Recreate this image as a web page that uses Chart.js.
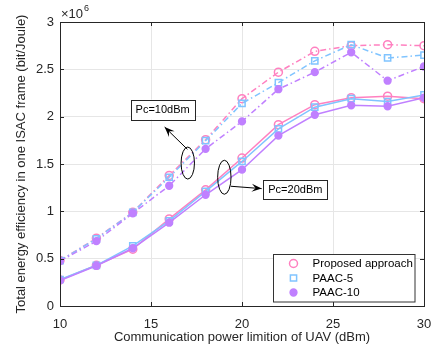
<!DOCTYPE html>
<html>
<head>
<meta charset="UTF-8" />
<script src="https://cdn.jsdelivr.net/npm/chart.js"></script>
<style>
  html, body { margin: 0; padding: 0; background: #fff; }
  #c { display: block; }
</style>
</head>
<body>
<canvas id="c" width="433" height="352"></canvas>
<script>
// x: communication power limit (dBm); y values in units of 1e6 bit/Joule
const powerDbm = [10, 12, 14, 16, 18, 20, 22, 24, 26, 28, 30];

// Pc = 10 dBm (dash-dot curves)
const proposedPc10 = [0.48, 0.716, 0.99, 1.379, 1.757, 2.19, 2.47, 2.69, 2.75, 2.76, 2.75];
const paac5Pc10    = [0.48, 0.71, 0.99, 1.36, 1.746, 2.14, 2.36, 2.59, 2.76, 2.62, 2.65];
const paac10Pc10   = [0.475, 0.685, 0.98, 1.27, 1.66, 1.95, 2.29, 2.47, 2.68, 2.38, 2.53];

// Pc = 20 dBm (solid curves)
const proposedPc20 = [0.275, 0.43, 0.60, 0.92, 1.227, 1.563, 1.915, 2.127, 2.20, 2.216, 2.19];
const paac5Pc20    = [0.28, 0.43, 0.635, 0.90, 1.21, 1.527, 1.87, 2.10, 2.19, 2.16, 2.23];
const paac10Pc20   = [0.27, 0.425, 0.61, 0.88, 1.175, 1.44, 1.80, 2.02, 2.12, 2.11, 2.20];

const seriesNames = ["Proposed approach", "PAAC-5", "PAAC-10"];
const xTicks = [10, 15, 20, 25, 30];
const yTicks = [0, 0.5, 1, 1.5, 2, 2.5, 3];

const PINK = "#ff80c0";
const BLUE = "#80c4ff";
const PURPLE = "#c080ff";
const FONT = "'Liberation Sans', Arial, sans-serif";
const TXT = "#262626";
const DASHDOT = [6, 3, 1.5, 3];

const styles = [
  { color: PINK, pointStyle: "circle", radius: 4, fill: "rgba(0,0,0,0)", order: 3 },
  { color: BLUE, pointStyle: "rect", radius: 4.4, fill: "rgba(0,0,0,0)", order: 2 },
  { color: PURPLE, pointStyle: "circle", radius: 3.4, fill: PURPLE, order: 1 }
];

function toPoints(ys) {
  return ys.map((y, i) => ({ x: powerDbm[i], y: y }));
}

function makeSet(name, ys, st, dashed) {
  return {
    label: name,
    data: toPoints(ys),
    borderColor: st.color,
    backgroundColor: st.fill,
    borderWidth: 1.5,
    borderDash: dashed ? DASHDOT : [],
    pointStyle: st.pointStyle,
    pointRadius: st.radius,
    pointBorderColor: st.color,
    pointBackgroundColor: st.fill,
    pointBorderWidth: 1.5,
    tension: 0,
    order: st.order
  };
}

const datasets = [
  makeSet(seriesNames[0], proposedPc10, styles[0], true),
  makeSet(seriesNames[1], paac5Pc10, styles[1], true),
  makeSet(seriesNames[2], paac10Pc10, styles[2], true),
  makeSet(seriesNames[0], proposedPc20, styles[0], false),
  makeSet(seriesNames[1], paac5Pc20, styles[1], false),
  makeSet(seriesNames[2], paac10Pc20, styles[2], false)
];

// annotation geometry in data units (ellipse radii in px)
const notes = [
  { text: "Pc=10dBm", box: [13.88, 2.18, 17.4, 1.97], ell: [17.02, 1.51, 6.7, 16], from: [17.0, 1.655], to: [15.75, 1.89] },
  { text: "Pc=20dBm", box: [21.17, 1.333, 24.69, 1.132], ell: [19.03, 1.36, 6.7, 17], from: [19.38, 1.265], to: [21.08, 1.24] }
];

// box frame, inward ticks, exponent label, annotations, legend
const decorPlugin = {
  id: "decor",
  afterDatasetsDraw(chart) {
    const { ctx, chartArea: a, scales } = chart;
    const xs = scales.x, ys = scales.y;
    ctx.save();

    ctx.strokeStyle = TXT;
    ctx.lineWidth = 1;
    ctx.setLineDash([]);
    ctx.strokeRect(a.left + 0.5, a.top + 0.5, a.right - a.left, a.bottom - a.top);
    ctx.beginPath();
    xTicks.forEach(v => {
      const px = Math.round(xs.getPixelForValue(v)) + 0.5;
      ctx.moveTo(px, a.bottom); ctx.lineTo(px, a.bottom - 4);
      ctx.moveTo(px, a.top); ctx.lineTo(px, a.top + 4);
    });
    yTicks.forEach(v => {
      const py = Math.round(ys.getPixelForValue(v)) + 0.5;
      ctx.moveTo(a.left, py); ctx.lineTo(a.left + 4, py);
      ctx.moveTo(a.right, py); ctx.lineTo(a.right - 4, py);
    });
    ctx.stroke();

    // x10^6 multiplier
    ctx.fillStyle = TXT;
    ctx.textBaseline = "alphabetic";
    ctx.textAlign = "left";
    ctx.font = "13px " + FONT;
    ctx.fillText("\u00d710", a.left + 1, a.top - 4);
    const w = ctx.measureText("\u00d710").width;
    ctx.font = "9px " + FONT;
    ctx.fillText("6", a.left + 1 + w + 1, a.top - 11);

    // annotations
    notes.forEach(n => {
      const bx0 = xs.getPixelForValue(n.box[0]), by0 = ys.getPixelForValue(n.box[1]);
      const bx1 = xs.getPixelForValue(n.box[2]), by1 = ys.getPixelForValue(n.box[3]);
      ctx.fillStyle = "#fff";
      ctx.fillRect(bx0, by0, bx1 - bx0, by1 - by0);
      ctx.strokeStyle = TXT;
      ctx.lineWidth = 1;
      ctx.strokeRect(Math.round(bx0) + 0.5, Math.round(by0) + 0.5, Math.round(bx1 - bx0), Math.round(by1 - by0));
      ctx.fillStyle = "#000";
      ctx.font = "11px " + FONT;
      ctx.textAlign = "center";
      ctx.textBaseline = "middle";
      ctx.fillText(n.text, (bx0 + bx1) / 2, (by0 + by1) / 2 + 0.5);

      const ex = xs.getPixelForValue(n.ell[0]), ey = ys.getPixelForValue(n.ell[1]);
      ctx.strokeStyle = "#000";
      ctx.beginPath();
      ctx.ellipse(ex, ey, n.ell[2], n.ell[3], 0, 0, Math.PI * 2);
      ctx.stroke();

      const fx = xs.getPixelForValue(n.from[0]), fy = ys.getPixelForValue(n.from[1]);
      const tx = xs.getPixelForValue(n.to[0]), ty = ys.getPixelForValue(n.to[1]);
      ctx.beginPath();
      ctx.moveTo(fx, fy); ctx.lineTo(tx, ty);
      ctx.stroke();
      const ang = Math.atan2(ty - fy, tx - fx);
      const L = 10, H = 4;
      ctx.fillStyle = "#000";
      ctx.beginPath();
      ctx.moveTo(tx, ty);
      ctx.lineTo(tx - L * Math.cos(ang) + H * Math.sin(ang), ty - L * Math.sin(ang) - H * Math.cos(ang));
      ctx.lineTo(tx - 0.6 * L * Math.cos(ang), ty - 0.6 * L * Math.sin(ang));
      ctx.lineTo(tx - L * Math.cos(ang) - H * Math.sin(ang), ty - L * Math.sin(ang) + H * Math.cos(ang));
      ctx.closePath();
      ctx.fill();
    });

    // legend in the lower right corner
    const lx = 273.5, ly = 254.5, lw = 141.5, lh = 47.5;
    ctx.fillStyle = "#fff";
    ctx.fillRect(lx, ly, lw, lh);
    ctx.strokeStyle = "#333";
    ctx.lineWidth = 1;
    ctx.strokeRect(lx, ly, lw, lh);
    seriesNames.forEach((name, i) => {
      const st = styles[i];
      const my = ly + 9 + i * 14.5;
      const mx = lx + 20;
      ctx.strokeStyle = st.color;
      ctx.fillStyle = st.fill;
      ctx.lineWidth = 1.5;
      Chart.helpers.drawPoint(ctx, { pointStyle: st.pointStyle, radius: st.radius, borderWidth: 1.5 }, mx, my);
      ctx.fillStyle = "#000";
      ctx.font = "11.5px " + FONT;
      ctx.textAlign = "left";
      ctx.textBaseline = "middle";
      ctx.fillText(name, lx + 39, my + 0.5);
    });

    ctx.restore();
  }
};

new Chart(document.getElementById("c"), {
  type: "line",
  data: { datasets: datasets },
  options: {
    responsive: false,
    animation: false,
    layout: { padding: { left: 10, right: 9, top: 22, bottom: 0 } },
    plugins: { legend: { display: false }, tooltip: { enabled: false } },
    scales: {
      x: {
        type: "linear",
        min: 10,
        max: 30,
        afterFit(s) { s.height = 46; s.paddingLeft = 0; s.paddingRight = 0; },
        afterBuildTicks(s) { s.ticks = xTicks.map(v => ({ value: v })); },
        grid: { color: "#e6e6e6", drawTicks: false },
        border: { display: false },
        ticks: { padding: 11, color: TXT, font: { family: FONT, size: 13 }, callback: v => String(v) },
        title: {
          display: true,
          text: "Communication power limition of UAV (dBm)",
          color: TXT,
          font: { family: FONT, size: 13 },
          padding: { top: 0, bottom: 7 }
        }
      },
      y: {
        type: "linear",
        min: 0,
        max: 3,
        afterFit(s) { s.width = 50; s.paddingTop = 0; s.paddingBottom = 0; },
        afterBuildTicks(s) { s.ticks = yTicks.map(v => ({ value: v })); },
        grid: { color: "#e6e6e6", drawTicks: false },
        border: { display: false },
        ticks: { padding: 6, color: TXT, font: { family: FONT, size: 13 }, callback: v => String(v) },
        title: {
          display: true,
          text: "Total energy efficiency in one ISAC frame (bit/Joule)",
          color: TXT,
          font: { family: FONT, size: 13 },
          padding: { top: 4, bottom: 0 }
        }
      }
    }
  },
  plugins: [decorPlugin]
});
</script>
</body>
</html>
